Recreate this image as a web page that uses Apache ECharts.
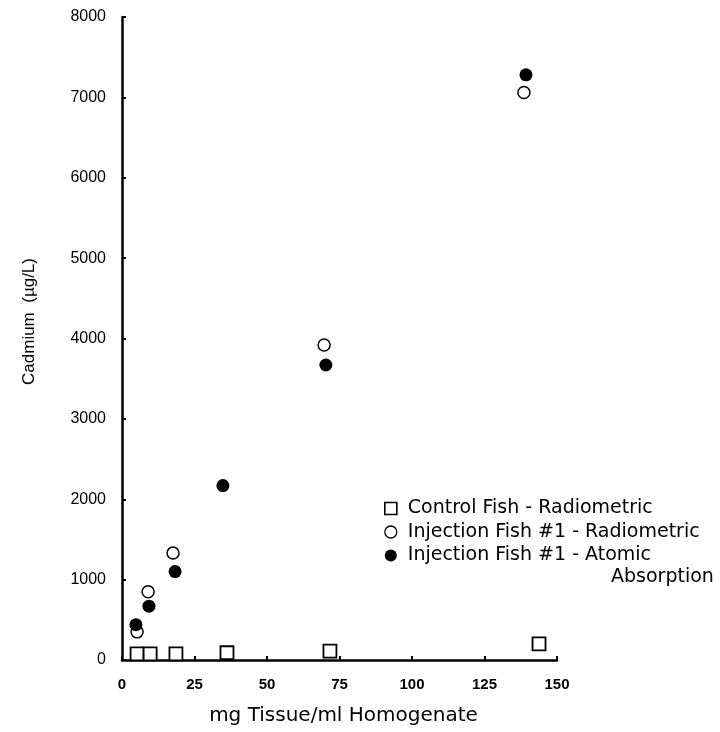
<!DOCTYPE html>
<html>
<head>
<meta charset="utf-8">
<script src="https://cdn.jsdelivr.net/npm/echarts@6/dist/echarts.min.js"></script>
<style>
html,body{margin:0;padding:0;background:#fff;}
#chart{width:720px;height:732px;}
</style>
</head>
<body>
<div id="chart"></div>
<script>
// ---- data ----
var seriesNames = ['Control Fish - Radiometric', 'Injection Fish #1 - Radiometric', 'Injection Fish #1 - Atomic'];
var controlX = [5.2, 9.7, 18.6, 36.2, 71.7, 143.8];
var controlY = [75, 75, 75, 90, 110, 200];
var injRadX = [5.2, 9.0, 17.6, 69.7, 138.6];
var injRadY = [350, 850, 1330, 3920, 7060];
var injAtomX = [4.8, 9.3, 18.3, 34.8, 70.3, 139.3];
var injAtomY = [440, 670, 1100, 2170, 3670, 7280];
var xTicks = [0, 25, 50, 75, 100, 125, 150];
var yTicks = [0, 1000, 2000, 3000, 4000, 5000, 6000, 7000, 8000];
var xTitle = 'mg Tissue/ml Homogenate';
var yTitle = 'Cadmium  (\u00b5g/L)';
var legendExtra = 'Absorption';

function pairs(xs, ys) { return xs.map(function (x, i) { return [x, ys[i]]; }); }

var chart = echarts.init(document.getElementById('chart'), null, { renderer: 'canvas' });
var axisCommon = {
  axisLine: { show: true, onZero: false, lineStyle: { color: '#000', width: 2.5 } },
  axisTick: { show: true, inside: true, length: 4, lineStyle: { color: '#000', width: 2 } },
  splitLine: { show: false }
};
chart.setOption({
  animation: false,
  backgroundColor: '#fff',
  grid: { left: 122, right: 163, top: 17, bottom: 72, containLabel: false },
  xAxis: Object.assign({}, axisCommon, {
    type: 'value', min: xTicks[0], max: xTicks[xTicks.length - 1], interval: 25,
    axisLabel: { margin: 17, color: '#000', fontFamily: 'Liberation Sans', fontSize: 15, fontWeight: 'bold',
      formatter: function (v) { return String(v); } },
    name: xTitle, nameLocation: 'middle', nameGap: 46,
    nameTextStyle: { color: '#000', fontFamily: 'DejaVu Sans', fontSize: 20, padding: [0, 0, 0, 8] }
  }),
  yAxis: Object.assign({}, axisCommon, {
    type: 'value', min: yTicks[0], max: yTicks[yTicks.length - 1], interval: 1000,
    axisLabel: { margin: 16, color: '#000', fontFamily: 'Liberation Sans', fontSize: 16,
      formatter: function (v) { return String(v); } },
    name: yTitle, nameLocation: 'middle', nameGap: 84, nameRotate: 90,
    nameTextStyle: { color: '#000', fontFamily: 'Liberation Sans', fontSize: 17, padding: [0, 0, 0, 34] }
  }),
  legend: {
    orient: 'vertical', left: 379, top: 492, itemWidth: 12, itemHeight: 12, itemGap: 0.5,
    selectedMode: false,
    textStyle: { color: '#000', fontFamily: 'DejaVu Sans', fontSize: 19, lineHeight: 23, padding: [0, 0, 0, 6] },
    data: [
      { name: seriesNames[0], icon: 'rect', itemStyle: { color: '#fff', borderColor: '#000', borderWidth: 1.6 } },
      { name: seriesNames[1], icon: 'circle', itemStyle: { color: '#fff', borderColor: '#000', borderWidth: 1.3 } },
      { name: seriesNames[2], icon: 'circle', itemStyle: { color: '#000', borderWidth: 0 } }
    ]
  },
  graphic: [{
    type: 'text', x: 611, y: 577, silent: true,
    style: { text: legendExtra, fill: '#000', font: '19px "DejaVu Sans"', verticalAlign: 'middle', textVerticalAlign: 'middle' }
  }],
  series: [
    { name: seriesNames[0], type: 'scatter', symbol: 'rect', symbolSize: 13, data: pairs(controlX, controlY),
      itemStyle: { color: '#fff', borderColor: '#000', borderWidth: 1.8, opacity: 1 } },
    { name: seriesNames[1], type: 'scatter', symbol: 'circle', symbolSize: 12, data: pairs(injRadX, injRadY),
      itemStyle: { color: '#fff', borderColor: '#000', borderWidth: 1.5, opacity: 1 } },
    { name: seriesNames[2], type: 'scatter', symbol: 'circle', symbolSize: 13, data: pairs(injAtomX, injAtomY),
      itemStyle: { color: '#000', borderWidth: 0, opacity: 1 } }
  ]
});
</script>
</body>
</html>
